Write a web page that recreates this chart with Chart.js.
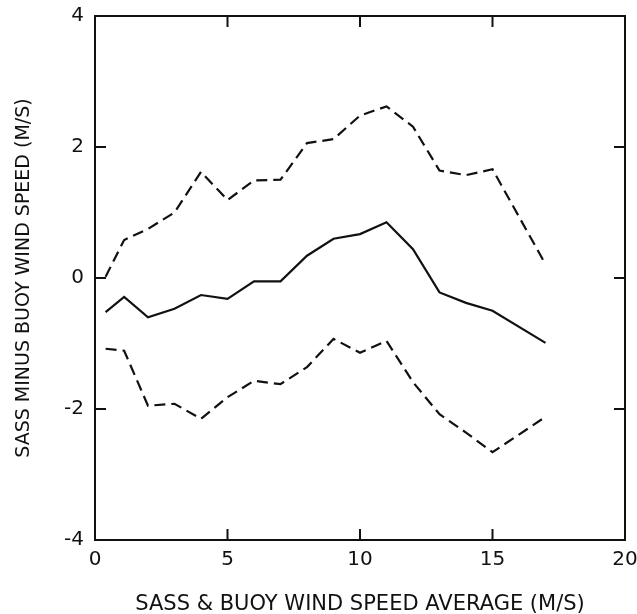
<!DOCTYPE html>
<html>
<head>
<meta charset="utf-8">
<script src="https://cdn.jsdelivr.net/npm/chart.js@4/dist/chart.umd.min.js"></script>
<style>
  html, body { margin: 0; padding: 0; background: #fff; }
  #wrap { width: 637px; height: 614px; }
</style>
</head>
<body>
<div id="wrap"><canvas id="chart" width="637" height="614"></canvas></div>
<script>
// wind speed bins (m/s)
const SPEEDS = [0.4, 1.1, 2, 3, 4, 5, 6, 7, 8, 9, 10, 11, 12, 13, 14, 15, 17];
// mean difference (solid)
const MEAN = [-0.52, -0.29, -0.60, -0.47, -0.26, -0.32, -0.05, -0.05, 0.34, 0.60, 0.67, 0.85, 0.44, -0.22, -0.38, -0.50, -0.99];
// mean + 1 sd (dashed)
const UPPER = [0.02, 0.58, 0.75, 1.00, 1.62, 1.19, 1.49, 1.50, 2.06, 2.12, 2.48, 2.62, 2.31, 1.64, 1.57, 1.66, 0.21];
// mean - 1 sd (dashed)
const LOWER = [-1.08, -1.11, -1.95, -1.92, -2.15, -1.82, -1.57, -1.62, -1.36, -0.93, -1.14, -0.96, -1.59, -2.08, -2.36, -2.66, -2.12];

const X_TICKS = [0, 5, 10, 15, 20];
const Y_TICKS = [-4, -2, 0, 2, 4];

const FONT = 'DejaVu Sans';
const INK = '#111';

const toPoints = (ys) => SPEEDS.map((x, i) => ({ x, y: ys[i] }));

// frame + inward tick marks on all four sides
const framePlugin = {
  id: 'frame',
  afterDraw(chart) {
    const { ctx, chartArea: a, scales } = chart;
    const len = 11;
    ctx.save();
    ctx.strokeStyle = INK;
    ctx.lineWidth = 2;
    ctx.strokeRect(a.left, a.top, a.right - a.left, a.bottom - a.top);
    ctx.beginPath();
    X_TICKS.slice(1, -1).forEach((v) => {
      const px = scales.x.getPixelForValue(v);
      ctx.moveTo(px, a.bottom); ctx.lineTo(px, a.bottom - len);
      ctx.moveTo(px, a.top); ctx.lineTo(px, a.top + len);
    });
    Y_TICKS.slice(1, -1).forEach((v) => {
      const py = scales.y.getPixelForValue(v);
      ctx.moveTo(a.left, py); ctx.lineTo(a.left + len, py);
      ctx.moveTo(a.right, py); ctx.lineTo(a.right - len, py);
    });
    ctx.stroke();
    ctx.restore();
  },
};

const lineStyle = (dash) => ({
  borderColor: INK,
  borderWidth: 2.2,
  borderDash: dash,
  pointRadius: 0,
  fill: false,
  tension: 0,
});

new Chart(document.getElementById('chart'), {
  type: 'line',
  data: {
    datasets: [
      { label: 'mean', data: toPoints(MEAN), ...lineStyle([]) },
      { label: 'upper', data: toPoints(UPPER), ...lineStyle([11, 6]) },
      { label: 'lower', data: toPoints(LOWER), ...lineStyle([11, 6]) },
    ],
  },
  options: {
    responsive: false,
    animation: false,
    layout: { padding: { top: 16, right: 12, bottom: 0, left: 0 } },
    plugins: { legend: { display: false }, tooltip: { enabled: false } },
    scales: {
      x: {
        type: 'linear',
        min: 0,
        max: 20,
        afterBuildTicks: (s) => { s.ticks = X_TICKS.map((v) => ({ value: v })); },
        afterFit: (s) => { s.height = 74; s.paddingLeft = 0; s.paddingRight = 0; },
        grid: { display: false, drawTicks: false },
        border: { display: false },
        ticks: { color: INK, font: { family: FONT, size: 20 }, padding: 8, maxRotation: 0 },
        title: {
          display: true,
          text: 'SASS & BUOY WIND SPEED AVERAGE (M/S)',
          color: INK,
          font: { family: FONT, size: 21 },
          padding: { top: 0, bottom: -3 },
        },
      },
      y: {
        type: 'linear',
        min: -4,
        max: 4,
        afterBuildTicks: (s) => { s.ticks = Y_TICKS.map((v) => ({ value: v })); },
        afterFit: (s) => { s.width = 95; s.paddingTop = 0; s.paddingBottom = 0; },
        grid: { display: false, drawTicks: false },
        border: { display: false },
        ticks: { color: INK, font: { family: FONT, size: 20 }, padding: 11 },
        title: {
          display: true,
          text: 'SASS MINUS BUOY WIND SPEED (M/S)',
          color: INK,
          font: { family: FONT, size: 19 },
          padding: { top: 13, bottom: 0 },
        },
      },
    },
  },
  plugins: [framePlugin],
});
</script>
</body>
</html>
